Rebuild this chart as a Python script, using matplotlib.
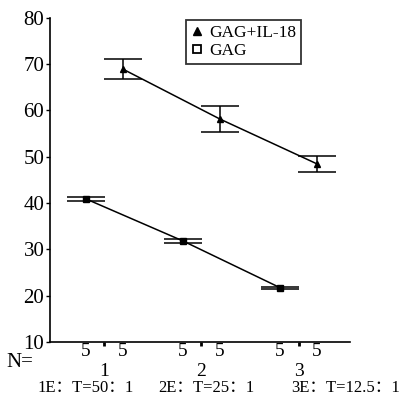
import numpy as np
import matplotlib.pyplot as plt
import matplotlib.transforms as mtransforms
from matplotlib.lines import Line2D

plt.rcParams['font.family'] = ['Liberation Serif', 'Noto Sans CJK SC']

groups = [1, 2, 3]
group_labels = ['1E：T=50：1', '2E：T=25：1', '3E：T=12.5：1']
n_left = ['5', '5', '5']
n_right = ['5', '5', '5']

gag = [40.9, 31.8, 21.7]
gag_err = [0.5, 0.5, 0.25]
il18 = [68.95, 58.15, 48.45]
il18_err = [2.2, 2.9, 1.8]

off = 0.19
x = np.array(groups, dtype=float)

fig = plt.figure(figsize=(4.09, 3.98), dpi=100)
ax = fig.add_axes([0.122, 0.141, 0.734, 0.814])

ax.errorbar(x + off, il18, yerr=il18_err, fmt='-', color='black', lw=1.1,
            marker='^', ms=5, capsize=13.5, elinewidth=1.1, capthick=1.1)
ax.errorbar(x - off, gag, yerr=gag_err, fmt='-', color='black', lw=1.1,
            marker='s', ms=4, capsize=13.5, elinewidth=1.1, capthick=1.1)

ax.set_xlim(0.44, 3.53)
ax.set_ylim(10, 80)
ax.set_yticks(np.arange(10, 81, 10))
ax.tick_params(axis='y', labelsize=15, length=3, width=1, pad=1)

for s in ['top', 'right']:
    ax.spines[s].set_visible(False)
ax.spines['left'].set_linewidth(1.2)
ax.spines['bottom'].set_linewidth(1.2)

# N counts as major ticks, group numbers as minor ticks
ax.set_xticks(np.concatenate([x - off, x + off]))
ax.set_xticklabels(n_left + n_right, fontsize=14)
ax.tick_params(axis='x', which='major', length=0, pad=1)
ax.set_xticks(x, minor=True)
ax.set_xticklabels([str(g) for g in groups], minor=True, fontsize=14)
ax.tick_params(axis='x', which='minor', length=3, width=2, pad=12)

# condition labels sit in one row under the axis, left aligned
trans = mtransforms.blended_transform_factory(ax.transData, ax.transAxes)
for g, lab, shift in zip(groups, group_labels, [-0.69, -0.44, -0.08]):
    ax.text(g + shift, -0.118, lab, transform=trans, ha='left', va='top', fontsize=12)
ax.text(-0.055, -0.035, 'N=', transform=ax.transAxes, ha='right', va='top', fontsize=15)

handles = [
    Line2D([], [], ls='none', marker='^', color='black', ms=6),
    Line2D([], [], ls='none', marker='s', mfc='white', mec='black', mew=1.3, ms=6),
]
leg = ax.legend(handles, ['GAG+IL-18', 'GAG'], loc='upper left',
                bbox_to_anchor=(0.455, 0.995), fontsize=12.5,
                frameon=True, fancybox=False, edgecolor='black',
                handlelength=0.6, handletextpad=0.4, borderpad=0.3,
                labelspacing=0.1, borderaxespad=0)
leg.get_frame().set_linewidth(1.3)

fig.savefig('out.png', dpi=100)
